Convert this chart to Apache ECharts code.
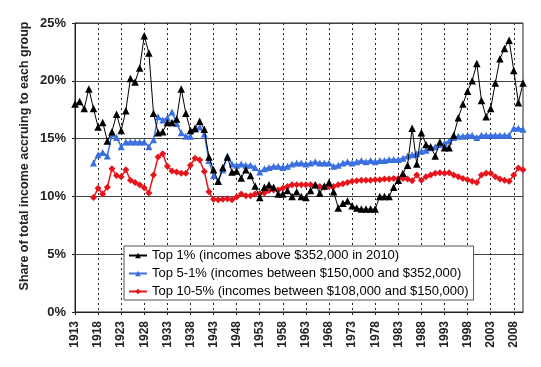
<!DOCTYPE html>
<html>
<head>
<meta charset="utf-8">
<script src="https://cdn.jsdelivr.net/npm/echarts@6/dist/echarts.min.js"></script>
<style>
html,body{margin:0;padding:0;background:#fff;}
#chart{width:541px;height:367px;}
</style>
</head>
<body>
<div id="chart"></div>
<script>
// Years 1913..2010
var years = [];
for (var y = 1913; y <= 2010; y++) years.push(String(y));

var seriesNames = [
  'Top 1% (incomes above $352,000 in 2010)',
  'Top 5-1% (incomes between $150,000 and $352,000)',
  'Top 10-5% (incomes between $108,000 and $150,000)'
];

var yAxisTitle = 'Share of total income accruing to each group';

// Top 1% share (%), 1913..2010
var top1 = [
  18.0, 18.2, 17.6, 19.3, 17.6, 16.0, 16.4, 14.8, 15.6, 17.1,
  15.7, 17.4, 20.2, 19.9, 21.1, 23.9, 22.4, 17.2, 15.5, 15.6,
  16.4, 16.4, 16.7, 19.3, 17.2, 15.7, 15.9, 16.5, 15.8, 13.4,
  12.3, 11.3, 12.5, 13.4, 12.1, 12.2, 11.6, 12.3, 11.8, 10.9,
  9.9, 10.8, 11.0, 10.8, 10.2, 10.2, 10.5, 10.0, 10.4, 10.0,
  9.9, 10.5, 11.0, 10.3, 10.9, 11.2, 10.4, 9.0, 9.4, 9.6,
  9.2, 9.0, 8.9, 8.9, 8.9, 8.9, 10.0, 10.0, 10.0, 10.8,
  11.4, 12.0, 12.7, 15.9, 12.8, 15.5, 14.5, 14.3, 13.5, 14.7,
  14.2, 14.2, 15.3, 16.8, 18.0, 19.1, 20.0, 21.5, 18.3, 16.9,
  17.6, 19.8, 21.9, 22.8, 23.5, 20.9, 18.1, 19.8
];

// Top 5-1% share (%), 1913..2010 (starts 1917)
var top5to1 = [
  null, null, null, null, 12.9, 13.6, 13.8, 13.5, 15.4, 15.1,
  14.3, 14.7, 14.7, 14.7, 14.7, 14.7, 14.3, 14.9, 16.9, 16.6,
  16.8, 17.3, 16.3, 15.5, 15.2, 15.2, 15.8, 16.0, 15.4, 13.1,
  11.8, 11.3, 12.3, 13.5, 12.8, 12.7, 12.8, 12.7, 12.7, 12.5,
  12.1, 12.4, 12.5, 12.6, 12.6, 12.5, 12.6, 12.8, 12.9, 12.9,
  12.8, 12.9, 13.0, 12.9, 12.9, 12.9, 12.6, 12.7, 12.9, 13.0,
  12.9, 13.0, 13.1, 13.0, 13.1, 13.0, 13.1, 13.1, 13.2, 13.2,
  13.2, 13.3, 13.5, 13.6, 13.7, 13.9, 14.0, 14.2, 14.3, 14.5,
  14.6, 14.8, 15.1, 15.2, 15.2, 15.3, 15.3, 15.1, 15.3, 15.3,
  15.3, 15.3, 15.3, 15.3, 15.3, 15.9, 15.9, 15.8
];

// Top 10-5% share (%), 1913..2010 (starts 1917)
var top10to5 = [
  null, null, null, null, 9.9, 10.7, 10.2, 10.8, 12.4, 11.8,
  11.7, 12.3, 11.4, 11.2, 11.0, 10.75, 10.3, 11.85, 13.4, 13.7,
  12.6, 12.2, 12.1, 12.0, 12.0, 12.7, 13.3, 13.15, 12.15, 10.4,
  9.75, 9.7, 9.75, 9.8, 9.7, 9.95, 10.2, 10.05, 10.05, 10.2,
  10.25, 10.3, 10.5, 10.55, 10.55, 10.7, 10.85, 11.0, 11.0, 11.0,
  11.0, 11.0, 10.95, 10.85, 10.8, 10.85, 10.85, 11.0, 11.1, 11.2,
  11.3, 11.35, 11.4, 11.4, 11.4, 11.45, 11.45, 11.5, 11.5, 11.55,
  11.55, 11.55, 11.5, 11.35, 11.85, 11.4, 11.7, 11.85, 12.0, 12.05,
  12.0, 12.05, 11.85, 11.7, 11.55, 11.45, 11.3, 11.2, 11.85, 12.0,
  12.0, 11.7, 11.5, 11.4, 11.3, 11.85, 12.45, 12.3
];

var yTicks = [0, 5, 10, 15, 20, 25];

var FONT = "'Liberation Sans', Arial, sans-serif";
var chart = echarts.init(document.getElementById('chart'), null, {renderer: 'canvas'});

chart.setOption({
  backgroundColor: '#fff',
  animation: false,
  grid: {
    left: 75, right: 18, top: 23, bottom: 55,
    show: true, borderColor: '#222', borderWidth: 1
  },
  graphic: [{
    type: 'text',
    x: 25, y: 156,
    rotation: Math.PI / 2,
    style: {
      text: yAxisTitle,
      font: "bold 12.5px 'Liberation Sans', Arial, sans-serif",
      fill: '#222',
      align: 'center',
      verticalAlign: 'middle'
    }
  }],
  legend: {
    orient: 'vertical',
    left: 124, top: 246,
    padding: [3, 5, 2, 4],
    itemGap: 5,
    itemWidth: 18, itemHeight: 7,
    backgroundColor: '#fff',
    borderColor: '#555', borderWidth: 1,
    textStyle: {fontSize: 13, color: '#000', fontFamily: FONT},
    data: seriesNames
  },
  xAxis: {
    type: 'category',
    data: years,
    boundaryGap: false,
    axisLine: {lineStyle: {color: '#222', width: 1}},
    axisTick: {show: true, interval: 4, length: 3, lineStyle: {color: '#222'}},
    axisLabel: {
      interval: 4, rotate: 90, margin: 9,
      fontSize: 12, fontWeight: 'bold', color: '#222', fontFamily: FONT
    },
    splitLine: {
      show: true, interval: 4,
      lineStyle: {type: [2, 3], color: '#222', width: 1}
    }
  },
  yAxis: {
    type: 'value',
    min: yTicks[0], max: yTicks[yTicks.length - 1], interval: 5,
    axisLine: {show: true, lineStyle: {color: '#222', width: 1}},
    axisTick: {show: true, length: 3, lineStyle: {color: '#222'}},
    axisLabel: {
      formatter: '{value}%', margin: 9,
      fontSize: 13, fontWeight: 'bold', color: '#222', fontFamily: FONT
    },
    splitLine: {show: true, lineStyle: {color: '#444', width: 1}}
  },
  series: [
    {
      name: seriesNames[0], type: 'line', data: top1, z: 5,
      symbol: 'triangle', symbolSize: 7.5, showAllSymbol: true,
      lineStyle: {color: '#000', width: 1},
      itemStyle: {color: '#000'}
    },
    {
      name: seriesNames[1], type: 'line', data: top5to1, z: 4,
      symbol: 'triangle', symbolSize: 7, showAllSymbol: true,
      lineStyle: {color: '#3a6fe0', width: 1.5},
      itemStyle: {color: '#3a6fe0'}
    },
    {
      name: seriesNames[2], type: 'line', data: top10to5, z: 3,
      symbol: 'diamond', symbolSize: 7, showAllSymbol: true,
      lineStyle: {color: '#e8141b', width: 1.5},
      itemStyle: {color: '#e8141b'}
    }
  ]
});
</script>
</body>
</html>
